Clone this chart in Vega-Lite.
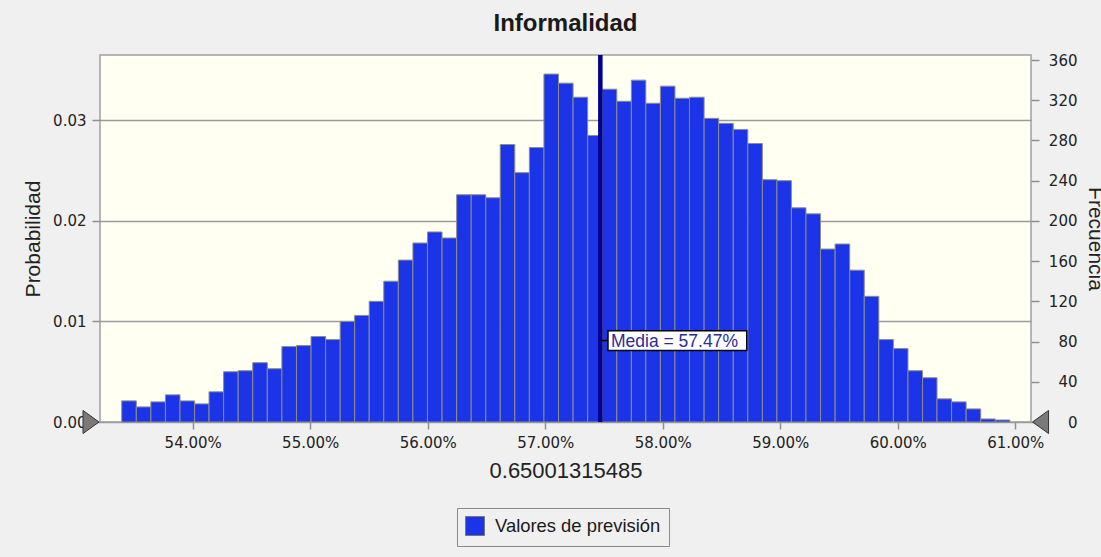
{
  "$schema": "https://vega.github.io/schema/vega-lite/v6.json",
  "autosize": {"type": "none"},
  "width": 931,
  "height": 367,
  "padding": {"left": 100, "top": 55, "right": 70, "bottom": 135},
  "background": "#f0f0f0",
  "title": {"text": "Informalidad", "font": "Liberation Sans", "fontSize": 24, "fontWeight": "bold", "color": "#1a1a1a", "anchor": "middle", "frame": "group", "offset": 17},
  "datasets": {
    "bins": [
      {"x0": 0.53396, "x1": 0.53520, "f": 21},
      {"x0": 0.53520, "x1": 0.53644, "f": 15},
      {"x0": 0.53644, "x1": 0.53768, "f": 20},
      {"x0": 0.53768, "x1": 0.53892, "f": 27},
      {"x0": 0.53892, "x1": 0.54016, "f": 21},
      {"x0": 0.54016, "x1": 0.54139, "f": 18},
      {"x0": 0.54139, "x1": 0.54263, "f": 30},
      {"x0": 0.54263, "x1": 0.54387, "f": 50},
      {"x0": 0.54387, "x1": 0.54511, "f": 51},
      {"x0": 0.54511, "x1": 0.54635, "f": 59},
      {"x0": 0.54635, "x1": 0.54759, "f": 53},
      {"x0": 0.54759, "x1": 0.54883, "f": 75},
      {"x0": 0.54883, "x1": 0.55007, "f": 76},
      {"x0": 0.55007, "x1": 0.55131, "f": 85},
      {"x0": 0.55131, "x1": 0.55255, "f": 82},
      {"x0": 0.55255, "x1": 0.55378, "f": 100},
      {"x0": 0.55378, "x1": 0.55502, "f": 106},
      {"x0": 0.55502, "x1": 0.55626, "f": 120},
      {"x0": 0.55626, "x1": 0.55750, "f": 140},
      {"x0": 0.55750, "x1": 0.55874, "f": 161},
      {"x0": 0.55874, "x1": 0.55998, "f": 178},
      {"x0": 0.55998, "x1": 0.56122, "f": 189},
      {"x0": 0.56122, "x1": 0.56246, "f": 183},
      {"x0": 0.56246, "x1": 0.56370, "f": 226},
      {"x0": 0.56370, "x1": 0.56494, "f": 226},
      {"x0": 0.56494, "x1": 0.56617, "f": 223},
      {"x0": 0.56617, "x1": 0.56741, "f": 276},
      {"x0": 0.56741, "x1": 0.56865, "f": 248},
      {"x0": 0.56865, "x1": 0.56989, "f": 273},
      {"x0": 0.56989, "x1": 0.57113, "f": 346},
      {"x0": 0.57113, "x1": 0.57237, "f": 337},
      {"x0": 0.57237, "x1": 0.57361, "f": 323},
      {"x0": 0.57361, "x1": 0.57485, "f": 285},
      {"x0": 0.57485, "x1": 0.57609, "f": 331},
      {"x0": 0.57609, "x1": 0.57733, "f": 319},
      {"x0": 0.57733, "x1": 0.57856, "f": 340},
      {"x0": 0.57856, "x1": 0.57980, "f": 317},
      {"x0": 0.57980, "x1": 0.58104, "f": 334},
      {"x0": 0.58104, "x1": 0.58228, "f": 322},
      {"x0": 0.58228, "x1": 0.58352, "f": 323},
      {"x0": 0.58352, "x1": 0.58476, "f": 302},
      {"x0": 0.58476, "x1": 0.58600, "f": 297},
      {"x0": 0.58600, "x1": 0.58724, "f": 291},
      {"x0": 0.58724, "x1": 0.58848, "f": 277},
      {"x0": 0.58848, "x1": 0.58972, "f": 241},
      {"x0": 0.58972, "x1": 0.59095, "f": 240},
      {"x0": 0.59095, "x1": 0.59219, "f": 213},
      {"x0": 0.59219, "x1": 0.59343, "f": 207},
      {"x0": 0.59343, "x1": 0.59467, "f": 172},
      {"x0": 0.59467, "x1": 0.59591, "f": 177},
      {"x0": 0.59591, "x1": 0.59715, "f": 151},
      {"x0": 0.59715, "x1": 0.59839, "f": 125},
      {"x0": 0.59839, "x1": 0.59963, "f": 82},
      {"x0": 0.59963, "x1": 0.60087, "f": 73},
      {"x0": 0.60087, "x1": 0.60211, "f": 51},
      {"x0": 0.60211, "x1": 0.60334, "f": 44},
      {"x0": 0.60334, "x1": 0.60458, "f": 23},
      {"x0": 0.60458, "x1": 0.60582, "f": 20},
      {"x0": 0.60582, "x1": 0.60706, "f": 13},
      {"x0": 0.60706, "x1": 0.60830, "f": 3},
      {"x0": 0.60830, "x1": 0.60954, "f": 2}
    ],
    "mean": [{"mean": 0.57469, "label": "Media = 57.47%", "boxStart": 0.57534, "boxEnd": 0.58715, "yLow": 71.2, "yHigh": 90.8, "yMid": 81}],
    "grabbers": [
      {"x": 0.531345, "y": 0, "dir": "left"},
      {"x": 0.612153, "y": 0, "dir": "right"}
    ]
  },
  "layer": [
    {
      "layer": [
        {
          "data": {"name": "bins"},
          "transform": [{"calculate": "'Valores de previsión'", "as": "serie"}],
          "mark": {"type": "bar", "stroke": "#8c8c8c", "strokeWidth": 1},
          "encoding": {
            "x": {"field": "x0", "type": "quantitative",
                  "scale": {"domain": [0.53211, 0.61134], "nice": false, "zero": false},
                  "axis": {"values": [0.54, 0.55, 0.56, 0.57, 0.58, 0.59, 0.6, 0.61], "format": ".2%", "title": "0.65001315485", "tickSize": 7, "labelPadding": 6, "titleBaseline": "alphabetic", "titlePadding": 27, "grid": false}},
            "x2": {"field": "x1"},
            "y": {"field": "f", "type": "quantitative",
                  "scale": {"domain": [0, 365], "nice": false},
                  "axis": {"orient": "left", "values": [0, 100, 200, 300], "labelExpr": "format(datum.value / 10000, '.2f')", "title": "Probabilidad", "grid": true, "tickSize": 8, "labelPadding": 6, "titleBaseline": "alphabetic", "titlePadding": 13, "titleFontSize": 21}},
            "y2": {"datum": 0},
            "color": {"field": "serie", "type": "nominal",
                      "scale": {"range": ["#1c34e8"]},
                      "legend": {"title": null, "orient": "none", "legendX": 357, "legendY": 453, "strokeColor": "#8a8a8a", "padding": 8, "symbolType": "square", "symbolSize": 361, "symbolStrokeColor": "#777777", "symbolStrokeWidth": 1, "labelFont": "Liberation Sans", "labelFontSize": 18.4, "labelColor": "#1a1a1a", "labelOffset": 10, "labelLimit": 400}}
          }
        },
        {
          "data": {"name": "mean"},
          "mark": {"type": "rule", "color": "#00008f", "strokeWidth": 4.5},
          "encoding": {"x": {"field": "mean", "type": "quantitative"}}
        },
        {
          "data": {"name": "mean"},
          "mark": {"type": "rule", "color": "#000000", "strokeWidth": 1.5},
          "encoding": {
            "x": {"field": "mean", "type": "quantitative"},
            "x2": {"field": "boxStart"},
            "y": {"field": "yMid", "type": "quantitative"}
          }
        },
        {
          "data": {"name": "mean"},
          "mark": {"type": "rect", "fill": "#ffffff", "stroke": "#000000", "strokeWidth": 1.5},
          "encoding": {
            "x": {"field": "boxStart", "type": "quantitative"},
            "x2": {"field": "boxEnd"},
            "y": {"field": "yLow", "type": "quantitative"},
            "y2": {"field": "yHigh"}
          }
        },
        {
          "data": {"name": "mean"},
          "mark": {"type": "text", "align": "left", "baseline": "middle", "dx": 3, "dy": 1, "font": "Liberation Sans", "fontSize": 17.5, "color": "#2c2c9c"},
          "encoding": {
            "x": {"field": "boxStart", "type": "quantitative"},
            "y": {"field": "yMid", "type": "quantitative"},
            "text": {"field": "label"}
          }
        }
      ]
    },
    {
      "data": {"name": "grabbers"},
      "mark": {"type": "point", "filled": true, "clip": false, "fill": "#7a7a7a", "stroke": "#333333", "strokeWidth": 1, "size": 256, "opacity": 1},
      "encoding": {
        "x": {"field": "x", "type": "quantitative"},
        "y": {"field": "y", "type": "quantitative",
              "scale": {"domain": [0, 365], "nice": false},
              "axis": {"orient": "right", "values": [0, 40, 80, 120, 160, 200, 240, 280, 320, 360], "title": "Frecuencia", "grid": false, "tickSize": 8, "labelAlign": "right", "labelPadding": 38, "titleBaseline": "alphabetic", "titlePadding": 11, "titleFontSize": 21}},
        "shape": {"field": "dir", "type": "nominal",
                  "scale": {"domain": ["left", "right"], "range": ["M -1 -1.44 L 1 0 L -1 1.44 Z", "M 1 -1.44 L -1 0 L 1 1.44 Z"]},
                  "legend": null}
      }
    }
  ],
  "resolve": {"scale": {"y": "independent"}, "axis": {"y": "independent"}},
  "config": {
    "view": {"fill": "#fffff2", "stroke": "#a0a0a0", "strokeWidth": 1.5},
    "axis": {"labelFont": "DejaVu Sans", "labelFontSize": 15, "labelColor": "#222222", "titleFont": "Liberation Sans", "titleFontSize": 22, "titleFontWeight": "normal", "titleColor": "#222222", "tickColor": "#909090", "tickWidth": 1.5, "domain": false, "gridColor": "#9a9a9a", "gridWidth": 1.5}
  }
}
